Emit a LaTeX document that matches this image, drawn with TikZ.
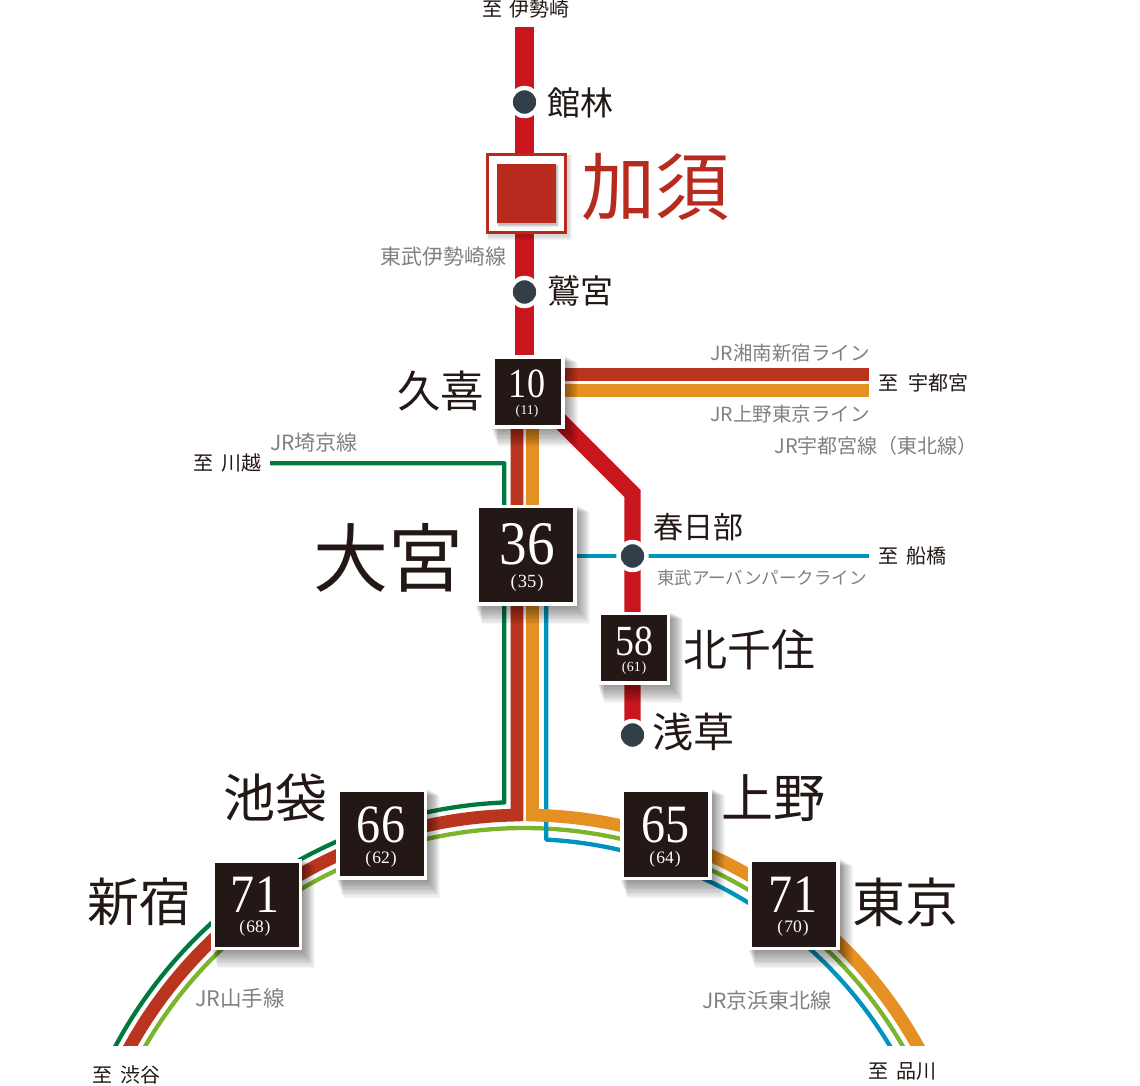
\documentclass[tikz,border=0pt]{standalone}
\usepackage{fontspec}
\usepackage{graphicx}
\newfontfamily\jp{Noto Sans CJK JP}
\newfontfamily\numf{Liberation Serif}
\definecolor{tobu}{HTML}{C9151E}
\definecolor{brownline}{HTML}{B9351F}
\definecolor{orangeline}{HTML}{E59023}
\definecolor{saikyo}{HTML}{00793F}
\definecolor{yama}{HTML}{7CB42B}
\definecolor{keihin}{HTML}{0093BF}
\definecolor{boxdark}{HTML}{231815}
\definecolor{dotdark}{HTML}{333F48}
\definecolor{kazo}{HTML}{B72A1E}
\definecolor{greytext}{HTML}{808080}
\newcommand{\fsz}[1]{\fontsize{#1}{#1}\selectfont}
% shadow stack under a box: centre, half size
\newcommand{\softshadow}[3]{%
  \foreach \g in {0,1,...,13}{%
    \fill[black,opacity=0.035] ({#1-#3+7-\g*0.5},{#2-#3+7-\g*0.5}) rectangle ({#1+#3+13-\g*0.95},{#2+#3+18-\g*1.3});
  }}
\newcommand{\stationbox}[4]{% name, cx, cy, half size
  \softshadow{#2}{#3}{#4}
  \node[fill=white,minimum size={2*#4*1pt},inner sep=0,outer sep=0] (#1) at (#2,#3) {};
  \node[fill=boxdark,minimum size={(2*#4-7.4)*1pt},inner sep=0,outer sep=0] (#1in) at (#2,#3) {};
}
\tikzset{
  x=1pt,y=-1pt,
  tobuline/.style={draw=tobu,line width=19pt},
  dot/.style={circle,fill=dotdark,draw=white,line width=4.4pt,minimum size=28pt,inner sep=0},
  jrname/.style={font=\jp\fsz{19.5},text=greytext,inner sep=0},
  dest/.style={font=\jp\fsz{20},text=boxdark,inner sep=0},
  bignum/.style={text=white,inner sep=0},
  subnum/.style={text=white,inner sep=0},
  place/.style={text=boxdark,inner sep=0},
  arcsamples/.style={samples=70,smooth},
}
\begin{document}
\begin{tikzpicture}
\useasboundingbox (0,0) rectangle (1140,1085);
% free ends of lines
\coordinate (isesakiTop) at (524.5,27);
\coordinate (isesakiBot) at (524.5,362);
\coordinate (shonanR) at (869,374.6);
\coordinate (shonanL) at (560,374.6);
\coordinate (uenoR) at (869,390.4);
\coordinate (uenoL) at (560,390.4);
\coordinate (kukiBranch) at (540,401);
\coordinate (bend) at (632.5,493.5);
\coordinate (asakusaEnd) at (632.5,735);
\coordinate (brownTop) at (517,425);
\coordinate (orangeTop) at (532.4,425);
\coordinate (saikyoL) at (270,463.3);
\coordinate (saikyoC) at (504.3,463.3);
\coordinate (keihinTop) at (546.3,600);
\coordinate (funabashiL) at (570,556);
\coordinate (funabashiR) at (869,556);
% lines
\begin{scope}
\clip (0,0) rectangle (1140,1045);
\draw[line width=4.3pt,draw=saikyo,line join=round] (saikyoL) -- (saikyoC) -- (504.3,802.4) -- plot[domain=-3:-70,arcsamples] ({524+464*sin(\x)},{1266-464*cos(\x)});
\draw[line width=4.3pt,draw=yama] plot[domain=-70:70,arcsamples] ({524+438*sin(\x)},{1266-438*cos(\x)});
\draw[line width=4.3pt,draw=keihin,line join=round] (keihinTop) -- (546.3,838.8) -- plot[domain=3:70,arcsamples] ({524+427*sin(\x)},{1266-427*cos(\x)});
\begin{scope}
\clip (0,0) rectangle (523.3,1045);
\draw[line width=12.7pt,draw=brownline,line join=miter] (brownTop) -- (517,815) -- plot[domain=-1.5:-70,arcsamples] ({524+451*sin(\x)},{1266-451*cos(\x)});
\end{scope}
\begin{scope}
\clip (526.2,0) rectangle (1140,1045);
\draw[line width=12.7pt,draw=orangeline,line join=miter] (orangeTop) -- (532.4,815) -- plot[domain=2:70,arcsamples] ({524+451*sin(\x)},{1266-451*cos(\x)});
\end{scope}
\end{scope}
\draw[line width=12.7pt,draw=brownline] (shonanL) -- (shonanR);
\draw[line width=12.7pt,draw=orangeline] (uenoL) -- (uenoR);
\draw[tobuline] (isesakiTop) -- (isesakiBot);
\draw[line width=16.4pt,draw=tobu,line join=miter] (kukiBranch) -- (bend) -- (asakusaEnd);
\draw[line width=4pt,draw=keihin] (funabashiL) -- (funabashiR);
% stations on the way
\node[dot] (tatebayashi) at (524.5,102) {};
\node[dot] (washinomiya) at (524.5,292) {};
\node[dot] (kasukabe) at (632.5,556) {};
\node[dot] (asakusa) at (632.5,735) {};
% Kazo
\foreach \g in {0,1,2,3}{\fill[black,opacity=0.04] (488,155) rectangle ({572-\g},{240-\g});}
\node[fill=white,draw=kazo,line width=3.2pt,minimum size=78pt,inner sep=0] (kazobox) at (526.2,193.4) {};
\foreach \g in {0,1,2}{\fill[black,opacity=0.09] (498,165) rectangle ({558.7-\g},{226.7-\g});}
\node[fill=kazo,minimum size=59pt,inner sep=0] (kazoin) at (526.2,193) {};
% time boxes
\stationbox{kuki}{528}{392}{36.7}
\stationbox{omiya}{526}{555.4}{50.7}
\stationbox{kitasenju}{633.7}{648.3}{36.7}
\stationbox{ikebukuro}{381.7}{834.2}{45.6}
\stationbox{shinjuku}{256.5}{904.5}{45.7}
\stationbox{ueno}{666}{834.2}{46}
\stationbox{tokyo}{794.2}{904.5}{45.8}
% numbers
\node[bignum,font=\numf\fsz{41.5}] (n10) at (527,384) {\scalebox{.87}[1]{10}};
\node[subnum,font=\numf\fsz{13.5}] (s10) at (527,411.5) {(\kern.5pt 11\kern.5pt)};
\node[bignum,font=\numf\fsz{62}] (n36) at (527,544) {\scalebox{.89}[1]{36}};
\node[subnum,font=\numf\fsz{18.5}] (s36) at (527,583) {(\kern1pt 35\kern1pt)};
\node[bignum,font=\numf\fsz{43}] (n58) at (634,641.7) {\scalebox{.88}[1]{58}};
\node[subnum,font=\numf\fsz{14}] (s58) at (634,668.3) {(\kern.5pt 61\kern.5pt)};
\node[bignum,font=\numf\fsz{54}] (n66) at (381,825) {\scalebox{.89}[1]{66}};
\node[subnum,font=\numf\fsz{17.5}] (s66) at (381,859) {(\kern1pt 62\kern1pt)};
\node[bignum,font=\numf\fsz{54}] (n71a) at (255,895) {\scalebox{.89}[1]{71}};
\node[subnum,font=\numf\fsz{17.5}] (s71a) at (255,928) {(\kern1pt 68\kern1pt)};
\node[bignum,font=\numf\fsz{54}] (n65) at (665.7,825) {\scalebox{.89}[1]{65}};
\node[subnum,font=\numf\fsz{17.5}] (s65) at (665,859) {(\kern1pt 64\kern1pt)};
\node[bignum,font=\numf\fsz{54}] (n71b) at (793,895) {\scalebox{.89}[1]{71}};
\node[subnum,font=\numf\fsz{17.5}] (s71b) at (793,928) {(\kern1pt 70\kern1pt)};
% place names
\node[place,font=\jp\fsz{33},anchor=west] (tTatebayashi) at (547,103) {館林};
\node[font=\jp\fsz{74},text=kazo,inner sep=0,anchor=west] (tKazo) at (581,187) {加須};
\node[place,font=\jp\fsz{33},anchor=west] (tWashinomiya) at (547,291) {鷲宮};
\node[place,font=\jp\fsz{43.5},anchor=east] (tKuki) at (484.5,391) {久喜};
\node[place,font=\jp\fsz{75},anchor=east] (tOmiya) at (464,558) {大宮};
\node[place,font=\jp\fsz{30},anchor=west] (tKasukabe) at (653,527) {春日部};
\node[place,font=\jp\fsz{44},anchor=west] (tKitasenju) at (683,650) {北千住};
\node[place,font=\jp\fsz{41},anchor=west] (tAsakusa) at (652,732) {浅草};
\node[place,font=\jp\fsz{52},anchor=east] (tIkebukuro) at (328,798) {池袋};
\node[place,font=\jp\fsz{52},anchor=east] (tShinjuku) at (192,902) {新宿};
\node[place,font=\jp\fsz{52},anchor=west] (tUeno) at (721,798) {上野};
\node[place,font=\jp\fsz{53},anchor=west] (tTokyo) at (852.5,902) {東京};
% line names
\node[jrname,font=\jp\fsz{21},anchor=east] (lIsesaki) at (507,257) {東武伊勢崎線};
\node[jrname,anchor=east] (lShonan) at (870,353) {JR湘南新宿ライン};
\node[jrname,anchor=east] (lUeno) at (870,414) {JR上野東京ライン};
\node[jrname,font=\jp\fsz{20},anchor=east] (lUtsunomiya) at (978,446) {JR宇都宮線（東北線）};
\node[jrname,font=\jp\fsz{21},anchor=west] (lSaikyo) at (270,443) {JR埼京線};
\node[jrname,font=\jp\fsz{17.5},anchor=west] (lUrban) at (657,578) {東武アーバンパークライン};
\node[jrname,font=\jp\fsz{21.5},anchor=west] (lYamanote) at (195,998) {JR山手線};
\node[jrname,font=\jp\fsz{21},anchor=west] (lKeihin) at (702,1001) {JR京浜東北線};
% destinations
\node[dest] (dIsesaki) at (526,9) {至\hspace{.4em}伊勢崎};
\node[dest,anchor=west] (dUtsunomiya) at (878,383) {至\hspace{.5em}宇都宮};
\node[dest,anchor=east] (dKawagoe) at (262,463) {至\hspace{.4em}川越};
\node[dest,anchor=west] (dFunabashi) at (878,556) {至\hspace{.4em}船橋};
\node[dest,anchor=west] (dShibuya) at (92,1075) {至\hspace{.4em}渋谷};
\node[dest,anchor=west] (dShinagawa) at (868,1071) {至\hspace{.4em}品川};
\end{tikzpicture}
\end{document}
